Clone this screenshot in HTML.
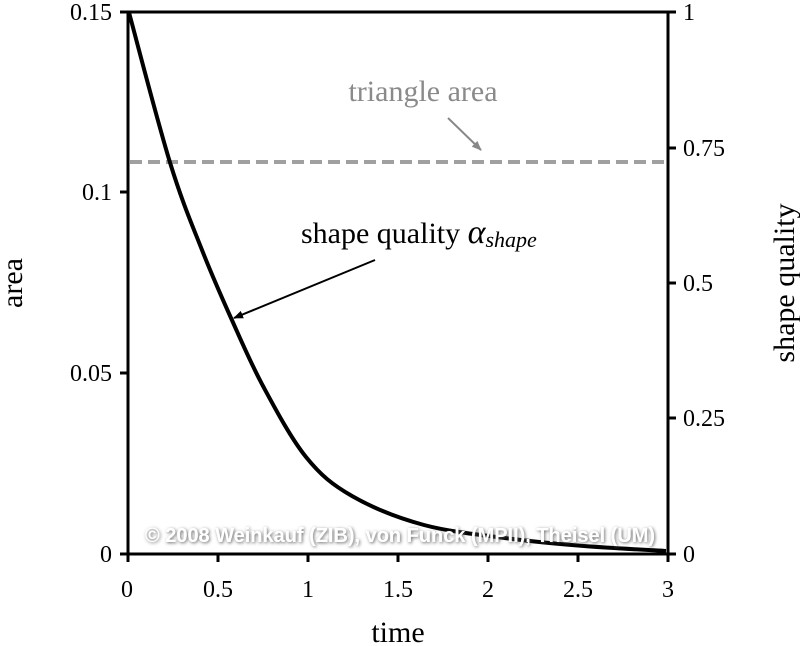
<!DOCTYPE html>
<html><head><meta charset="utf-8"><style>body{margin:0;background:#fff}svg{display:block}</style></head>
<body>
<svg width="800" height="646" viewBox="0 0 800 646" xmlns="http://www.w3.org/2000/svg" font-family="Liberation Serif, serif">
<defs>
<marker id="ab" markerWidth="10" markerHeight="8" refX="9" refY="4" orient="auto" markerUnits="userSpaceOnUse"><path d="M0,0 L10,4 L0,8 z" fill="#000"/></marker>
<marker id="ag" markerWidth="10" markerHeight="8" refX="9" refY="4" orient="auto" markerUnits="userSpaceOnUse"><path d="M0,0 L10,4 L0,8 z" fill="#888"/></marker>
<filter id="sh"><feDropShadow dx="1" dy="1" stdDeviation="1.5" flood-color="#555" flood-opacity="0.9"/></filter>
</defs>
<g stroke="#000" stroke-width="3" fill="none">
<rect x="128" y="12" width="540" height="542"/>
<path d="M128,12h-8M128,192h-8M128,373h-8M128,554h-8"/>
<path d="M668,12h8M668,148h8M668,283h8M668,418h8M668,554h8"/>
<path d="M128,554v8M218,554v8M308,554v8M398,554v8M488,554v8M578,554v8M668,554v8"/>
</g>
<line x1="130" y1="162" x2="668" y2="162" stroke="#a0a0a0" stroke-width="4" stroke-dasharray="12,6"/>
<path d="M129,12.5 C135.8,37.5 157.8,122.9 170,162.5 C182.2,202.1 191.8,224.1 202,250 C212.2,275.9 220.8,295.3 231,318 C241.2,340.7 250.5,362.8 263,386 C275.5,409.2 291.2,438.7 306,457 C320.8,475.3 332.3,484.7 352,496 C371.7,507.3 397.2,517.8 424,525 C450.8,532.2 486.3,535.5 513,539 C539.7,542.5 558.5,544 584,546 C609.5,548 652.3,550.2 666,551" fill="none" stroke="#000" stroke-width="4" stroke-linejoin="round"/>
<g font-size="24" fill="#000">
<text x="112" y="20" text-anchor="end">0.15</text>
<text x="112" y="200" text-anchor="end">0.1</text>
<text x="112" y="381" text-anchor="end">0.05</text>
<text x="112" y="562" text-anchor="end">0</text>
<text x="683" y="20">1</text>
<text x="683" y="156">0.75</text>
<text x="683" y="291">0.5</text>
<text x="683" y="426">0.25</text>
<text x="683" y="562">0</text>
<g text-anchor="middle">
<text x="127" y="597">0</text><text x="218" y="597">0.5</text><text x="308" y="597">1</text><text x="398" y="597">1.5</text><text x="488" y="597">2</text><text x="578" y="597">2.5</text><text x="668" y="597">3</text>
</g>
</g>
<text x="398" y="642" font-size="30" text-anchor="middle">time</text>
<text transform="translate(22,283) rotate(-90)" font-size="30" text-anchor="middle">area</text>
<text transform="translate(794,283) rotate(-90)" font-size="30" text-anchor="middle">shape quality</text>
<text x="423" y="101" font-size="30" fill="#8a8a8a" text-anchor="middle">triangle area</text>
<line x1="448" y1="118" x2="481" y2="150" stroke="#888" stroke-width="2" marker-end="url(#ag)"/>
<text x="301" y="243" font-size="30" fill="#000">shape quality <tspan font-style="italic" font-size="34">α</tspan><tspan font-style="italic" font-size="22" dy="4">shape</tspan></text>
<line x1="375" y1="260" x2="234" y2="318" stroke="#000" stroke-width="2" marker-end="url(#ab)"/>
<text x="400" y="542" font-family="Liberation Sans, sans-serif" font-weight="bold" font-size="20" fill="#fff" text-anchor="middle" textLength="510" lengthAdjust="spacingAndGlyphs" filter="url(#sh)">© 2008 Weinkauf (ZIB), von Funck (MPII), Theisel (UM)</text>
</svg>
</body></html>
